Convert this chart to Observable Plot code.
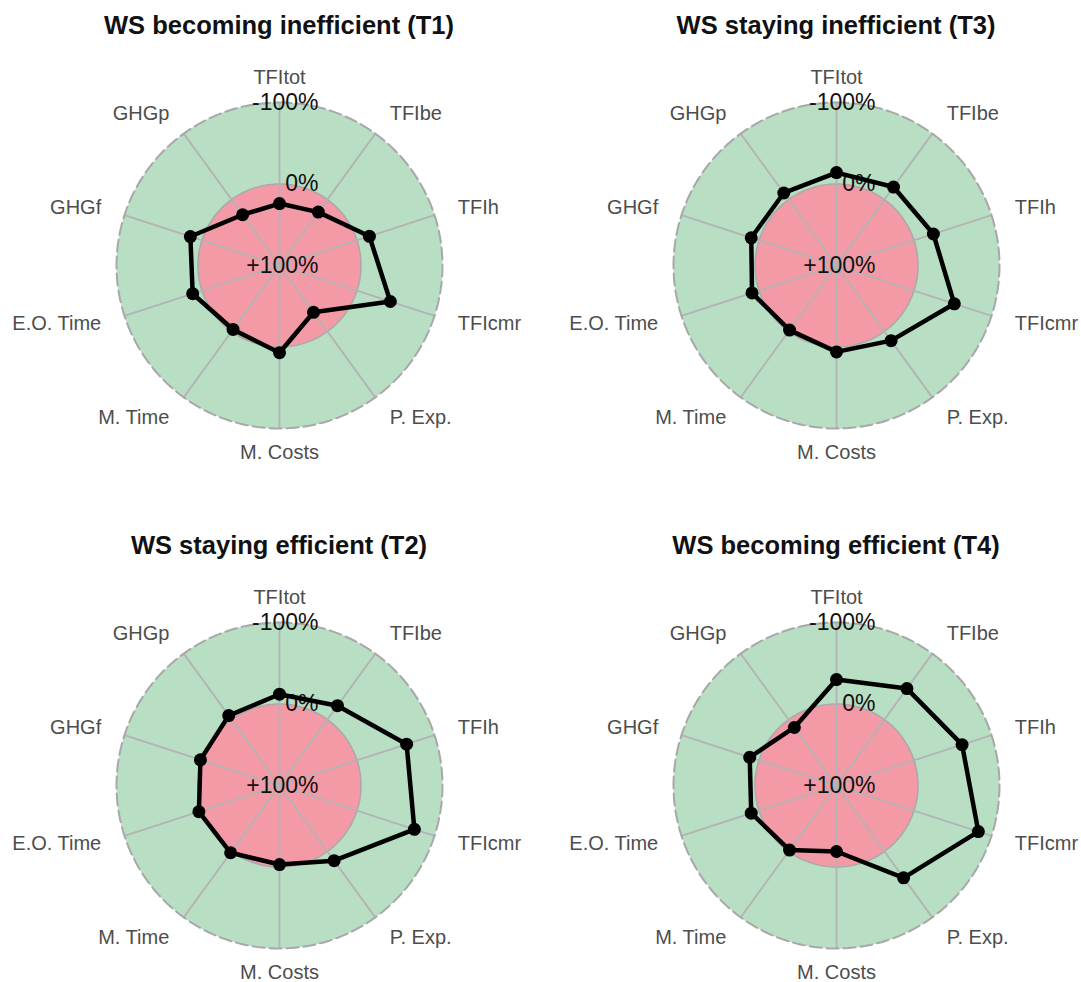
<!DOCTYPE html>
<html>
<head>
<meta charset="utf-8">
<script src="https://cdn.jsdelivr.net/npm/d3@7"></script>
<script src="https://cdn.jsdelivr.net/npm/@observablehq/plot@0.6"></script>
<style>
  html, body { margin: 0; padding: 0; background: #fff; overflow: hidden; }
  #root { position: relative; width: 1081px; height: 982px; font-family: "Liberation Sans", Arial, sans-serif; }
  .panel { position: absolute; width: 540px; height: 520px; }
  .title { position: absolute; top: 9.5px; height: 30px; line-height: 30px; width: 540px; text-align: center;
           font-weight: bold; font-size: 25.5px; color: #111; white-space: nowrap; }
  .panel svg { position: absolute; left: 0; top: 45px; overflow: visible; }
</style>
</head>
<body>
<div id="root"></div>
<script>
// ---- data ----
const axisLabels = ["TFItot", "TFIbe", "TFIh", "TFIcmr", "P. Exp.", "M. Costs", "M. Time", "E.O. Time", "GHGf", "GHGp"];
const gridLabels = ["-100%", "0%", "+100%"];
const gridValues = [-100, 0, 100];
const titles = ["WS becoming inefficient (T1)", "WS staying inefficient (T3)", "WS staying efficient (T2)", "WS becoming efficient (T4)"];
const valuesT1 = [24, 19, -16, -43, 29, -7, 3, -12, -15, 23];
const valuesT3 = [-14, -19, -25, -52, -14, -6, 2, -9, -10, -10];
const valuesT2 = [-12, -21, -64, -74, -14, 3, -2, -4, -2, -6];
const valuesT4 = [-30, -47, -62, -83, -40, 19, 2, -10, -12, 12];
const seriesList = [valuesT1, valuesT3, valuesT2, valuesT4];

// ---- styling ----
const GREEN = "#b8dec4";
const PINK = "#f49aa7";
const R = 163;
const FONT = "Liberation Sans, Arial, sans-serif";
const n = axisLabels.length;

const toRad = v => (100 - v) / 200; // +100 at centre, -100 at outer ring
const ang = i => i * 2 * Math.PI / n;
const circle = rad => d3.range(0, 360, 2).map(d => ({x: rad * Math.sin(d * Math.PI / 180), y: rad * Math.cos(d * Math.PI / 180)}));

function radar(values, cx, cy) {
  const pts = values.map((v, i) => ({x: toRad(v) * Math.sin(ang(i)), y: toRad(v) * Math.cos(ang(i))}));
  const spokes = axisLabels.map((a, i) => ({x2: Math.sin(ang(i)), y2: Math.cos(ang(i))}));
  const labs = axisLabels.map((a, i) => ({text: a, x: 1.15 * Math.sin(ang(i)), y: 1.15 * Math.cos(ang(i)), s: Math.sin(ang(i))}));
  const grid = gridLabels.map((g, k) => ({text: g, x: 0, y: toRad(gridValues[k])}));
  const labStyle = {x: "x", y: "y", text: "text", fontSize: 20, fill: "#4d4d4d", fontFamily: FONT};
  return Plot.plot({
    width: 540, height: 460, margin: 0,
    style: {background: "transparent", overflow: "visible"},
    x: {domain: [-1, 1], range: [cx - R, cx + R], axis: null},
    y: {domain: [-1, 1], range: [cy + R, cy - R], axis: null},
    marks: [
      Plot.line(circle(1), {x: "x", y: "y", fill: GREEN, stroke: "none", curve: "linear-closed"}),
      Plot.line(circle(0.5), {x: "x", y: "y", fill: PINK, stroke: "#aaaaaa", strokeWidth: 1.6, curve: "linear-closed"}),
      Plot.link(spokes, {x1: 0, y1: 0, x2: "x2", y2: "y2", stroke: "#b3b3b3", strokeWidth: 1.8}),
      Plot.line(circle(1), {x: "x", y: "y", fill: "none", stroke: "#a8a8a8", strokeWidth: 2, strokeDasharray: "12,5", curve: "linear-closed"}),
      Plot.text(labs.filter(d => Math.abs(d.s) < 0.05), {...labStyle, textAnchor: "middle"}),
      Plot.text(labs.filter(d => d.s >= 0.05), {...labStyle, textAnchor: "start"}),
      Plot.text(labs.filter(d => d.s <= -0.05), {...labStyle, textAnchor: "end"}),
      Plot.text(grid, {x: "x", y: "y", text: "text", fontSize: 23, fill: "#111", fontFamily: FONT, textAnchor: "end", dx: 39}),
      Plot.line(pts, {x: "x", y: "y", stroke: "#000", strokeWidth: 4.5, curve: "linear-closed", strokeLinejoin: "round"}),
      Plot.dot(pts, {x: "x", y: "y", r: 6.5, fill: "#000", stroke: "none"})
    ]
  });
}

const root = document.getElementById("root");
const layout = [
  {left: 0, top: 0, cx: 279},
  {left: 540, top: 0, cx: 296},
  {left: 0, top: 520, cx: 279},
  {left: 540, top: 520, cx: 296}
];
layout.forEach((L, k) => {
  const div = document.createElement("div");
  div.className = "panel";
  div.style.left = L.left + "px";
  div.style.top = L.top + "px";
  const t = document.createElement("div");
  t.className = "title";
  t.style.left = (L.cx - 270) + "px";
  t.textContent = titles[k];
  div.appendChild(t);
  div.appendChild(radar(seriesList[k], L.cx, 220));
  root.appendChild(div);
});
</script>
</body>
</html>
